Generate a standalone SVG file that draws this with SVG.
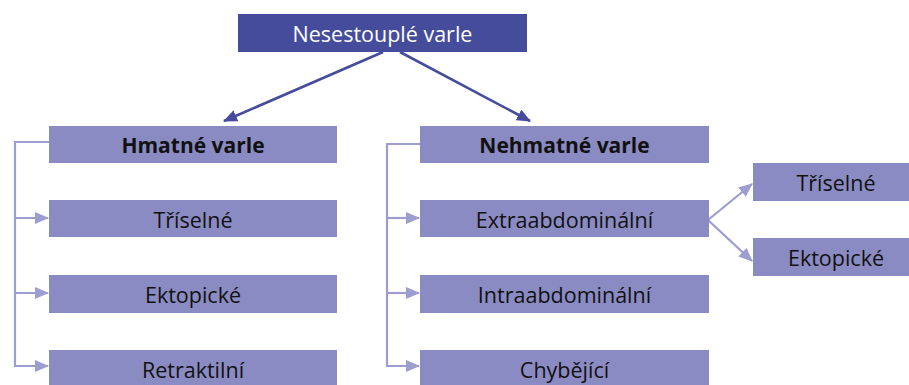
<svg xmlns="http://www.w3.org/2000/svg" width="909" height="385" viewBox="0 0 909 385">
<style>
.box{fill:#8b8bc3}
.top{fill:#454c9b}
.t{font-family:"Open Sans","Noto Sans",sans-serif;font-size:21.5px;fill:#111;text-anchor:middle;dominant-baseline:central}
.b{font-weight:bold;font-size:21px}
.w{fill:#fff;font-size:21.5px}
.lc{fill:none;stroke:#9d9dd0;stroke-width:2.2}
.dc{fill:none;stroke:#454c9b;stroke-width:2.6}
</style>
<defs>
<marker id="ad" markerWidth="14" markerHeight="12" refX="13" refY="6" orient="auto" markerUnits="userSpaceOnUse"><path d="M0,0 L14,6 L0,12 Z" fill="#454c9b"/></marker>
<marker id="al" markerWidth="14" markerHeight="12" refX="13" refY="6" orient="auto" markerUnits="userSpaceOnUse"><path d="M0,0 L14,6 L0,12 Z" fill="#9d9dd0"/></marker>
</defs>
<g id="connectors">
<path class="dc" d="M383,52 L224,121" marker-end="url(#ad)"/>
<path class="dc" d="M400,52 L530,121" marker-end="url(#ad)"/>
<path class="lc" d="M49,142 H15 V366 H48" marker-end="url(#al)"/>
<path class="lc" d="M15,218 H48" marker-end="url(#al)"/>
<path class="lc" d="M15,293 H48" marker-end="url(#al)"/>
<path class="lc" d="M420,144 H387 V366 H419" marker-end="url(#al)"/>
<path class="lc" d="M387,218 H419" marker-end="url(#al)"/>
<path class="lc" d="M387,293 H419" marker-end="url(#al)"/>
<path class="lc" d="M708,220 L752,184" marker-end="url(#al)"/>
<path class="lc" d="M708,220 L752,261" marker-end="url(#al)"/>
</g>
<g id="n-root"><rect class="top" x="238" y="14" width="289" height="38"/><text class="t w" x="382.5" y="33">Nesestouplé varle</text></g>
<g id="n-hmatne"><rect class="box" x="49" y="126" width="288" height="37"/><text class="t b" x="193" y="145">Hmatné varle</text></g>
<g id="n-h-triselne"><rect class="box" x="49" y="200" width="288" height="37"/><text class="t" x="193" y="219">Tříselné</text></g>
<g id="n-h-ektopicke"><rect class="box" x="49" y="275" width="288" height="38"/><text class="t" x="193" y="294">Ektopické</text></g>
<g id="n-h-retraktilni"><rect class="box" x="49" y="350" width="288" height="38"/><text class="t" x="193" y="369">Retraktilní</text></g>
<g id="n-nehmatne"><rect class="box" x="420" y="126" width="289" height="37"/><text class="t b" x="564.5" y="145">Nehmatné varle</text></g>
<g id="n-extra"><rect class="box" x="420" y="200" width="289" height="37"/><text class="t" x="564.5" y="219">Extraabdominální</text></g>
<g id="n-intra"><rect class="box" x="420" y="275" width="289" height="38"/><text class="t" x="564.5" y="294">Intraabdominální</text></g>
<g id="n-chybejici"><rect class="box" x="420" y="350" width="289" height="38"/><text class="t" x="564.5" y="369">Chybějící</text></g>
<g id="n-e-triselne"><rect class="box" x="753" y="163" width="160" height="38"/><text class="t" x="836" y="182">Tříselné</text></g>
<g id="n-e-ektopicke"><rect class="box" x="753" y="238" width="160" height="38"/><text class="t" x="836" y="257">Ektopické</text></g>
</svg>
